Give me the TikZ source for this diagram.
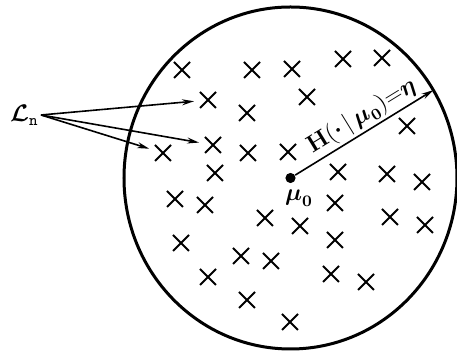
\documentclass[tikz,border=0pt]{standalone}
\usepackage{amsmath,amssymb}
\usetikzlibrary{arrows.meta,positioning,shapes.misc}

\begin{document}
\begin{tikzpicture}[x=0.5pt,y=-0.5pt,
  xmark/.style={cross out,draw,line width=1pt,minimum size=7pt,inner sep=0pt},
  ptr/.style={-{Stealth[length=6pt,width=3pt]},line width=0.8pt,shorten >=3pt}]
  \useasboundingbox (0,0) rectangle (457,351);
  % the ball
  \draw[line width=1.5pt] (290.5,178) ellipse [x radius=166.5,y radius=171];
  % sample points
  \foreach \px/\py [count=\i] in {182/70,252/70,292/69,343/59,382/58,208/100,307/97,247/113,
      407/126,163/153,213/145,248/153,288/152,215/173,338/172,387/174,422/182,175/199,
      205/205,335/203,265/218,300/226,390/217,425/225,181/243,335/240,241/256,271/261,
      208/277,331/274,366/282,247/300,290/322}
    \node[xmark] (x\i) at (\px,\py) {};
  % centre and radius
  \node[circle,fill,inner sep=1.8pt] (mu) at (290.5,178) {};
  \node[font=\large] (mulbl) at (299,198) {$\boldsymbol{\mu}_{\mathbf{0}}$};
  \coordinate (rim) at (433.4,90.1);
  \draw[-{Stealth[length=6pt,width=3pt]},line width=0.8pt] (mu) -- (rim)
    node[pos=0.54,sloped,above,inner sep=1.2pt,font=\large]
    {$\mathbf{H}(\boldsymbol{\cdot}\,|\,\boldsymbol{\mu}_{\mathbf{0}}){=}\boldsymbol{\eta}$};
  % the set L_n
  \node[anchor=east,inner sep=1pt,font=\large] (ln) at (41,115) {$\boldsymbol{\mathcal{L}}_{\mathtt{n}}$};
  \draw[ptr] (ln.east) -- (x6);
  \draw[ptr] (ln.east) -- (x11);
  \draw[ptr] (ln.east) -- (x10);
\end{tikzpicture}
\end{document}
